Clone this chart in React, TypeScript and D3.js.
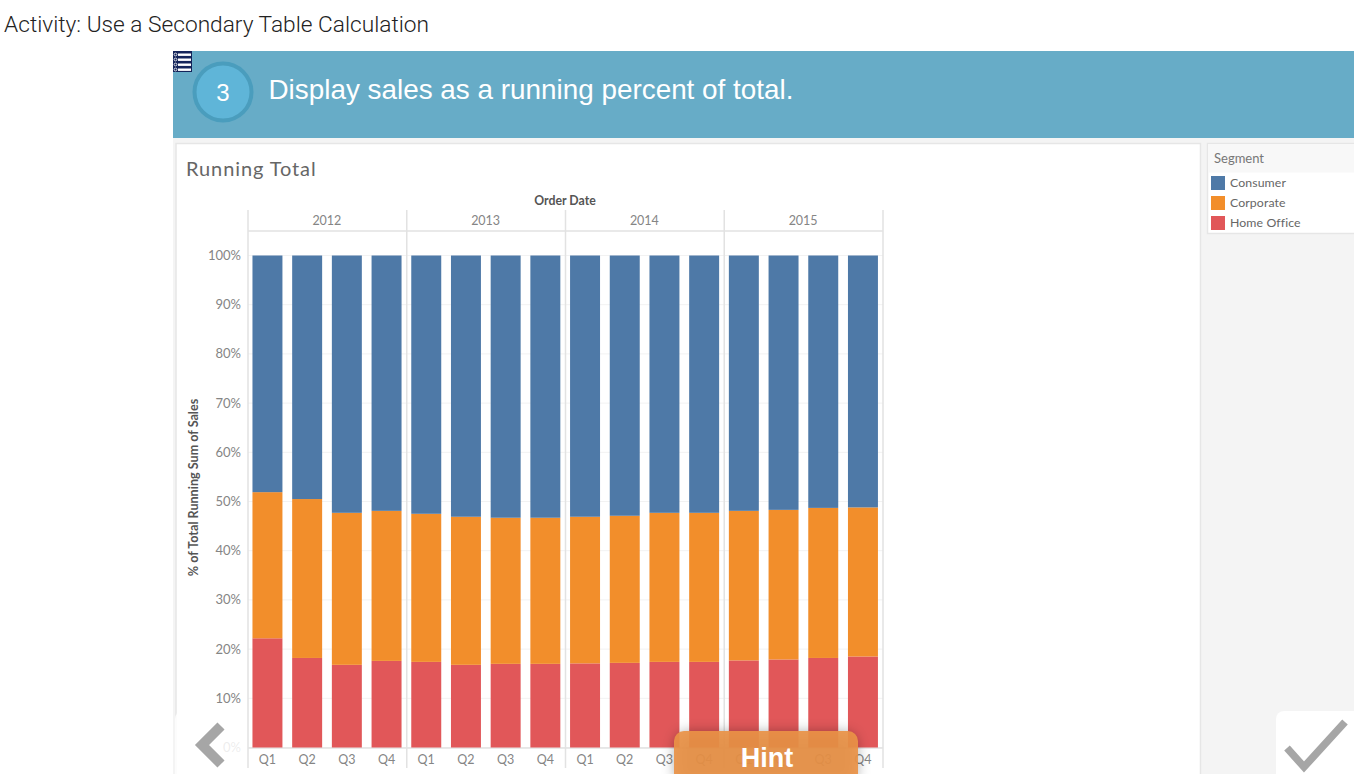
import React from "react";
import * as d3 from "d3";

const years = ["2012", "2013", "2014", "2015"];
const quarters = ["Q1", "Q2", "Q3", "Q4"];
const segments = ["Home Office", "Corporate", "Consumer"];
const legendOrder = ["Consumer", "Corporate", "Home Office"];
const homeOffice = [22.2, 18.2, 16.8, 17.6, 17.4, 16.8, 17.0, 17.0, 17.1, 17.2, 17.4, 17.4, 17.7, 17.9, 18.2, 18.5];
const corporate = [29.7, 32.3, 30.9, 30.5, 30.1, 30.1, 29.7, 29.7, 29.8, 29.9, 30.3, 30.3, 30.4, 30.4, 30.5, 30.3];
const consumer = [48.1, 49.5, 52.3, 51.9, 52.5, 53.1, 53.3, 53.3, 53.1, 52.9, 52.3, 52.3, 51.9, 51.7, 51.3, 51.2];
const yTicks = [0, 10, 20, 30, 40, 50, 60, 70, 80, 90, 100];
const segmentColors = ["#e15759", "#f28e2b", "#4e79a7"];

const W = 1354, H = 774;
const uiFont = "'Liberation Sans', Arial, sans-serif";
const tabFont = "Lato, 'Open Sans', sans-serif";
const textGrey = "#858585";
const rule = "#e2e2e2";

export default function App() {
  const paneL = 248, paneR = 883, top = 255.5, bottom = 747.5;
  const y = d3.scaleLinear().domain([0, 100]).range([bottom, top]);
  const keys = years.flatMap((yr) => quarters.map((q) => `${yr}-${q}`));
  const x = d3.scaleBand().domain(keys).range([paneL - 0.3, paneR - 0.3]).paddingInner(0.245).paddingOuter(0.12);
  const rows = keys.map((k, i) => ({
    key: k,
    "Home Office": homeOffice[i],
    Corporate: corporate[i],
    Consumer: consumer[i],
  }));
  const stacked = d3.stack<any>().keys(segments)(rows);
  const color = d3.scaleOrdinal<string, string>().domain(segments).range(segmentColors);
  const yearX = d3.scaleBand().domain(years).range([paneL, paneR]);

  return (
    <svg
      width={W}
      height={H}
      viewBox={`0 0 ${W} ${H}`}
      style={{ position: "fixed", left: 0, top: 0, background: "#fff" }}
    >
      <defs>
        <filter id="hintShadow" x="-20%" y="-60%" width="140%" height="220%">
          <feGaussianBlur stdDeviation="7" />
        </filter>
      </defs>

      <text x={4} y={32} fontFamily="Roboto, sans-serif" fontWeight={300} fontSize={22.7} fill="#222">
        Activity: Use a Secondary Table Calculation
      </text>

      <rect x={173} y={138} width={1181} height={636} fill="#f4f4f4" />
      <rect x={176} y={143.5} width={1024.5} height={640} fill="#fff" stroke="#e6e6e6" strokeWidth={1.5} />

      <rect x={173} y={51} width={1181} height={87} fill="#67acc7" />
      <circle cx={223} cy={92} r={28.5} fill="#5fb5d8" stroke="#4a9dbd" strokeWidth={4} />
      <text x={223} y={100.5} textAnchor="middle" fontFamily={uiFont} fontSize={24} fill="#fff">3</text>
      <text x={268.5} y={99} fontFamily={uiFont} fontSize={27.87} fill="#fff">
        Display sales as a running percent of total.
      </text>

      <rect x={173} y={51} width={19} height={21} fill="#14245a" />
      {[0, 1, 2, 3].map((i) => (
        <g key={i}>
          <circle cx={175.5} cy={54.5 + i * 5} r={1.4} fill="none" stroke="#fff" strokeWidth={0.8} />
          <rect x={178} y={53.5 + i * 5} width={13} height={2.4} fill="#fff" />
        </g>
      ))}

      <text x={186} y={175.5} fontFamily={tabFont} fontSize={20} letterSpacing={0.9} fill="#666">Running Total</text>
      <text x={565} y={205} textAnchor="middle" fontFamily={tabFont} fontWeight={700} fontSize={12.3} fill="#555">
        Order Date
      </text>

      {yTicks.map((t) => (
        <g key={t}>
          <line x1={paneL} x2={paneR} y1={y(t)} y2={y(t)} stroke="#f2f2f2" />
          <text x={241} y={y(t) + 4.5} textAnchor="end" fontFamily={tabFont} fontSize={13} fill={textGrey}>
            {`${t}%`}
          </text>
        </g>
      ))}

      <line x1={paneL} x2={paneR} y1={231} y2={231} stroke={rule} strokeWidth={1.5} />
      {years.map((yr) => (
        <g key={yr}>
          <text
            x={yearX(yr)! + yearX.bandwidth() / 2 - 0.5}
            y={225}
            textAnchor="middle"
            fontFamily={tabFont}
            fontSize={12.5}
            fill={textGrey}
          >
            {yr}
          </text>
          <line x1={yearX(yr)!} x2={yearX(yr)!} y1={210} y2={768} stroke={rule} strokeWidth={1.5} />
        </g>
      ))}
      <line x1={paneR} x2={paneR} y1={210} y2={768} stroke={rule} strokeWidth={1.5} />
      <line x1={paneL} x2={paneR} y1={748} y2={748} stroke={rule} strokeWidth={1.5} />

      {stacked.map((s) => (
        <g key={s.key} fill={color(s.key)}>
          {s.map((d: any) => (
            <rect
              key={d.data.key}
              x={x(d.data.key)}
              width={x.bandwidth()}
              y={y(d[1])}
              height={y(d[0]) - y(d[1])}
            />
          ))}
        </g>
      ))}

      {keys.map((k) => (
        <text
          key={k}
          x={x(k)! + x.bandwidth() / 2}
          y={764}
          textAnchor="middle"
          fontFamily={tabFont}
          fontSize={12.5}
          fill={textGrey}
        >
          {k.split("-")[1]}
        </text>
      ))}

      <text
        transform="translate(198,487.5) rotate(-90)"
        textAnchor="middle"
        fontFamily={tabFont}
        fontWeight={700}
        fontSize={12.6}
        fill="#555"
      >
        % of Total Running Sum of Sales
      </text>

      <rect x={1207.5} y={143.5} width={150} height={90} fill="#fff" stroke="#e6e6e6" strokeWidth={1.5} />
      <rect x={1208} y={144} width={150} height={28.5} fill="#f8f8f8" />
      <text x={1214} y={163} fontFamily={tabFont} fontSize={13} fill="#777">Segment</text>
      {legendOrder.map((name, i) => (
        <g key={name}>
          <rect x={1211} y={176 + i * 20} width={14} height={14} fill={color(name)} />
          <text x={1230} y={187 + i * 20} fontFamily={tabFont} fontSize={12.3} letterSpacing={0.1} fill="#666">{name}</text>
        </g>
      ))}

      <rect x={175} y={711} width={70} height={70} rx={8} fill="#fff" fillOpacity={0.85} />
      <path d="M221,726 L202,745 L221,764" fill="none" stroke="#a6a6a6" strokeWidth={10} />

      <rect x={1276} y={711} width={90} height={70} rx={8} fill="#fff" fillOpacity={0.95} />
      <path d="M1287,748 L1304,767 L1345,722" fill="none" stroke="#a6a6a6" strokeWidth={7.5} />

      <rect x={676} y={733} width={180} height={50} rx={10} fill="#000" fillOpacity={0.4} filter="url(#hintShadow)" />
      <rect x={674} y={731} width={184} height={60} rx={10} fill="#ea9246" fillOpacity={0.92} />
      <text x={767} y={767} textAnchor="middle" fontFamily={uiFont} fontWeight={700} fontSize={27} fill="#fff">
        Hint
      </text>
    </svg>
  );
}
